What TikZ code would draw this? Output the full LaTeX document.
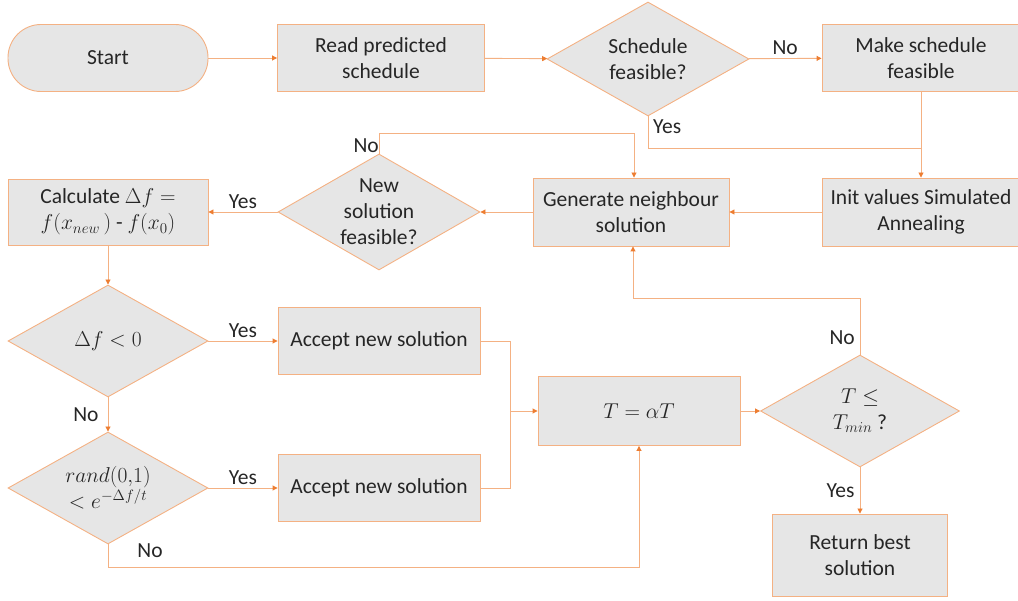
\documentclass[tikz,border=0pt]{standalone}
\usepackage{fix-cm}
\usepackage{amsmath}
\usepackage{fontspec}
\setmainfont{Carlito}
\usetikzlibrary{shapes.geometric,arrows.meta,calc}
\definecolor{edge}{HTML}{F4B183}
\definecolor{tip}{HTML}{ED7D31}
\definecolor{boxfill}{HTML}{E6E6E6}
\definecolor{ink}{HTML}{262626}
\begin{document}
\begin{tikzpicture}[x=1pt,y=-1pt,
  font=\fontsize{21.5}{26}\selectfont, text=ink,
  box/.style={draw=edge, fill=boxfill, line width=0.9pt, align=center, inner sep=0pt},
  decision/.style={diamond, draw=edge, fill=boxfill, line width=0.9pt, inner sep=0pt},
  inside/.style={align=center, inner sep=0pt, text=ink},
  link/.style={draw=edge, line width=0.9pt},
  arr/.style={link, -{Triangle[length=5pt,width=5pt,color=tip]}},
  tag/.style={inner sep=1pt, text=ink}]
\useasboundingbox (0,0) rectangle (1018,601);

% process boxes
\node[box, rounded corners=33pt, minimum width=200pt, minimum height=67pt] (start) at (108,58) {Start};
\node[box, minimum width=207pt, minimum height=67pt] (read) at (381,58) {Read predicted\\schedule};
\node[box, minimum width=198pt, minimum height=67pt] (make) at (921,58) {Make schedule\\feasible};
\node[box, minimum width=198pt, minimum height=68pt] (init) at (921,212) {Init values Simulated\\Annealing};
\node[box, minimum width=196pt, minimum height=68pt] (gen) at (631,212) {Generate neighbour\\solution};
\node[box, minimum width=200pt, minimum height=66pt] (calc) at (108,212) {Calculate $\Delta f=$\\$f(x_{new}\,)$ - $f(x_0)$};
\node[box, minimum width=202pt, minimum height=67pt] (acc1) at (379,341) {Accept new solution};
\node[box, minimum width=202pt, minimum height=67pt] (acc2) at (379,488) {Accept new solution};
\node[box, minimum width=202pt, minimum height=69pt] (talpha) at (639,411) {$T=\alpha T$};
\node[box, minimum width=175pt, minimum height=82pt] (ret) at (860,555) {Return best\\solution};

% decisions
\node[decision, minimum width=202pt, minimum height=114pt,
  label={[inside]center:Schedule\\feasible?}] (sched) at (648,59) {};
\node[decision, minimum width=202pt, minimum height=116pt,
  label={[inside]center:New\\solution\\feasible?}] (newsol) at (379,212) {};
\node[decision, minimum width=200pt, minimum height=112pt,
  label={[inside]center:$\Delta f<0$}] (dneg) at (108,341) {};
\node[decision, minimum width=200pt, minimum height=112pt,
  label={[inside]center:$rand(0{,}1)$\\$<e^{-\Delta f/t}$}] (drand) at (108,488) {};
\node[decision, minimum width=199pt, minimum height=112pt,
  label={[inside]center:$T\le$\\$T_{min}$ ?}] (tmin) at (860,411) {};

% junctions
\coordinate (j1) at (921,148);
\coordinate (j2) at (510,411);

% connectors
\draw[arr] (start) -- (read);
\draw[arr] (read) -- (sched);
\draw[arr] (sched) -- node[tag, above=2pt] {No} (make);
\draw[arr] (make) -- (init);
\draw[link] (sched.south) |- (j1);
\node[tag, anchor=north west] at ($(sched.south)+(4,2)$) {Yes};
\draw[arr] (init) -- (gen);
\draw[arr] (gen) -- (newsol);
\draw[arr] (newsol) -- node[tag, above=2pt] {Yes} (calc);
\draw[arr] (newsol.north) -- ++(0,-20) -| ([xshift=3pt]gen.north);
\node[tag, anchor=east] at ($(newsol.north)+(1,-8)$) {No};
\draw[arr] (calc) -- (dneg);
\draw[arr] (dneg) -- node[tag, above=2pt] {Yes} (acc1);
\draw[arr] (dneg) -- node[tag, left=8pt] {No} (drand);
\draw[arr] (drand) -- node[tag, above=2pt] {Yes} (acc2);
\draw[arr] (drand.south) -- ++(0,23) -| (talpha.south);
\node[tag] at ($(drand.south)+(42,6)$) {No};
\draw[link] (acc1.east) -| (j2);
\draw[link] (acc2.east) -| (j2);
\draw[arr] (j2) -- (talpha);
\draw[arr] (talpha) -- (tmin);
\draw[arr] (tmin.north) -- ++(0,-56) -| ([xshift=2pt]gen.south);
\node[tag, anchor=east] at ($(tmin.north)+(-4,-17)$) {No};
\draw[arr] (tmin) -- node[tag, left=4pt] {Yes} (ret);
\end{tikzpicture}
\end{document}
